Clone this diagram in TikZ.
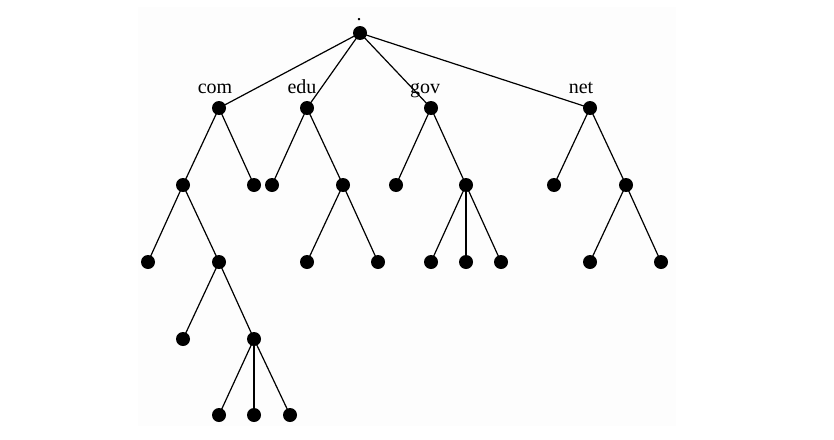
\documentclass[tikz,border=0pt]{standalone}
\usepackage{fontspec}
\setmainfont{Liberation Serif}
\begin{document}
\begin{tikzpicture}[x=1pt,y=-1pt,
  dot/.style={circle,fill=black,inner sep=0pt,minimum size=14pt},
  lab/.style={font=\fontsize{20}{22}\selectfont,inner sep=0pt,anchor=base},
  edge/.style={line width=1.2pt}]
\useasboundingbox (0,0) rectangle (834,439);
\fill[black!0.8] (138,7) rectangle (676,426);
% nodes
\node[dot] (r) at (360,33) {};
\node[dot] (com) at (219,108) {};
\node[dot] (edu) at (307,108) {};
\node[dot] (gov) at (431,108) {};
\node[dot] (net) at (590,108) {};
\node[dot] (c1) at (183,185) {};
\node[dot] (c2) at (254,185) {};
\node[dot] (e1) at (272,185) {};
\node[dot] (e2) at (343,185) {};
\node[dot] (g1) at (396,185) {};
\node[dot] (g2) at (466,185) {};
\node[dot] (n1) at (554,185) {};
\node[dot] (n2) at (626,185) {};
\node[dot] (c11) at (148,262) {};
\node[dot] (c12) at (219,262) {};
\node[dot] (e21) at (307,262) {};
\node[dot] (e22) at (378,262) {};
\node[dot] (g21) at (431,262) {};
\node[dot] (g22) at (466,262) {};
\node[dot] (g23) at (501,262) {};
\node[dot] (n21) at (590,262) {};
\node[dot] (n22) at (661,262) {};
\node[dot] (c121) at (183,339) {};
\node[dot] (c122) at (254,339) {};
\node[dot] (d1) at (219,415) {};
\node[dot] (d2) at (254,415) {};
\node[dot] (d3) at (290,415) {};
% labels
\node[lab] (lr) at (359,20) {.};
\node[lab] (lcom) at (215,93) {com};
\node[lab] (ledu) at (302,93) {edu};
\node[lab] (lgov) at (425,93) {gov};
\node[lab] (lnet) at (581,93) {net};
% edges
\foreach \a/\b in {r/com,r/edu,r/gov,r/net,com/c1,com/c2,edu/e1,edu/e2,gov/g1,gov/g2,net/n1,net/n2,
  c1/c11,c1/c12,e2/e21,e2/e22,g2/g21,g2/g22,g2/g23,n2/n21,n2/n22,c12/c121,c12/c122,c122/d1,c122/d2,c122/d3}
  \draw[edge] (\a.center) -- (\b.center);
\end{tikzpicture}
\end{document}
